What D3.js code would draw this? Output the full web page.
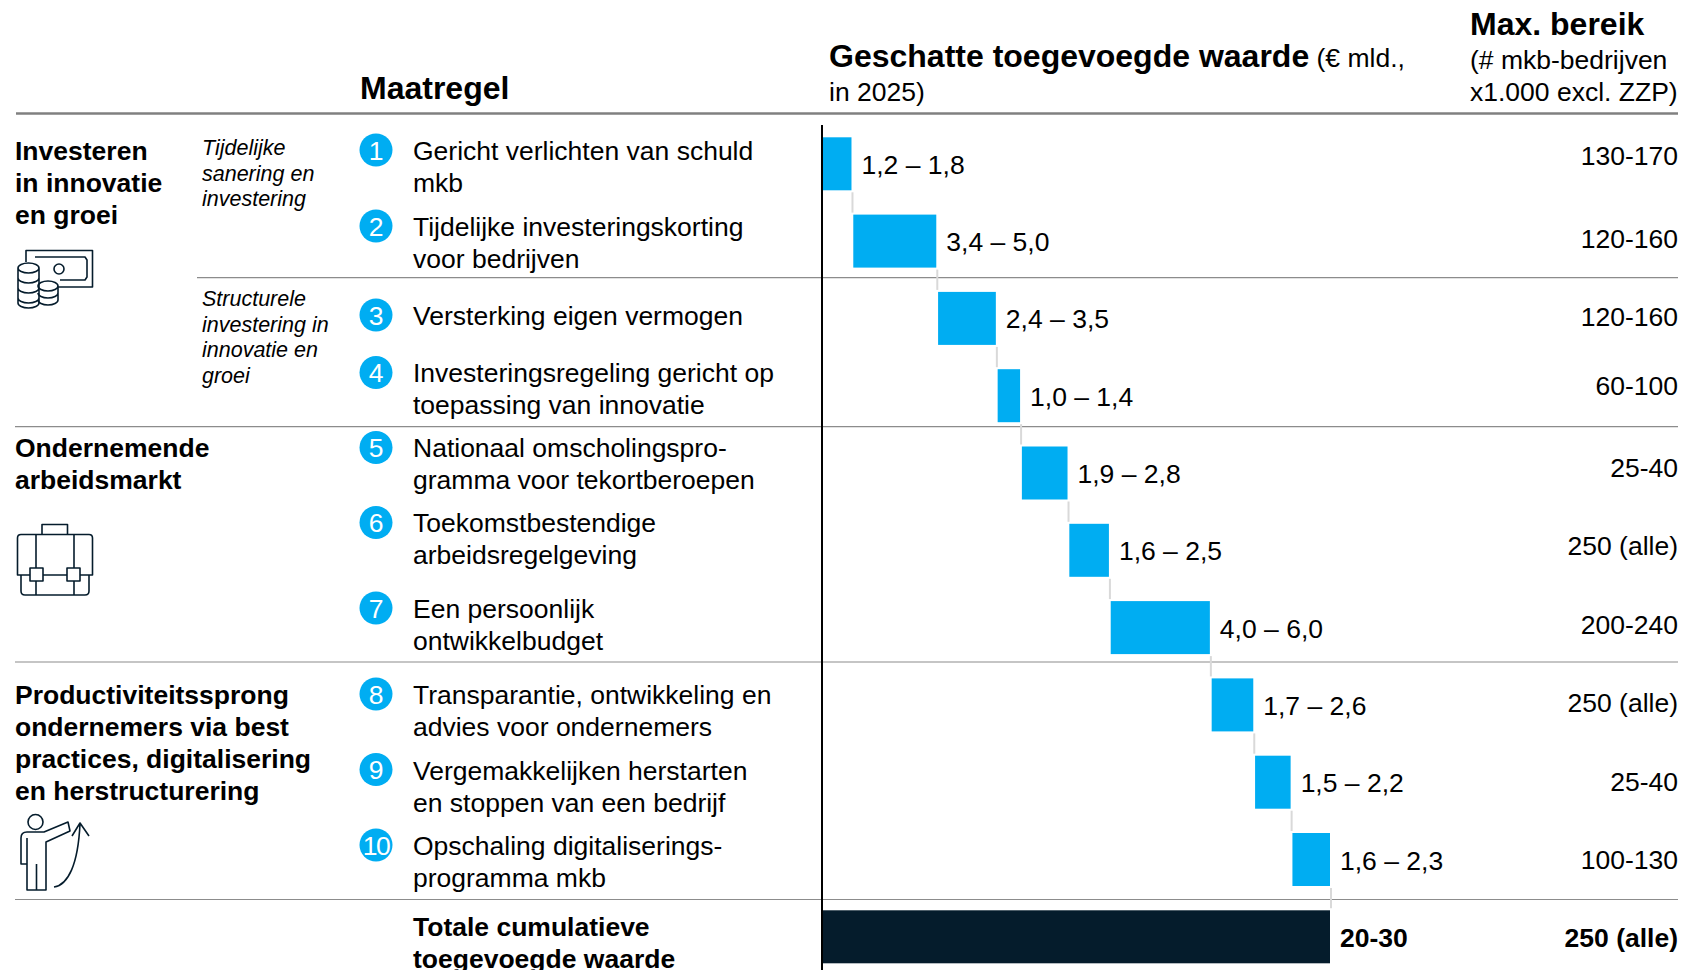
<!DOCTYPE html>
<html>
<head>
<meta charset="utf-8">
<script src="https://cdn.jsdelivr.net/npm/d3@7"></script>
<style>
body { margin: 0; background: #fff; }
text { font-family: "Liberation Sans", Arial, sans-serif; fill: #000; }
</style>
</head>
<body>
<div id="chart"></div>
<script>
// data
var measures = [
    ["Gericht verlichten van schuld", "mkb"],
    ["Tijdelijke investeringskorting", "voor bedrijven"],
    ["Versterking eigen vermogen"],
    ["Investeringsregeling gericht op", "toepassing van innovatie"],
    ["Nationaal omscholingspro-", "gramma voor tekortberoepen"],
    ["Toekomstbestendige", "arbeidsregelgeving"],
    ["Een persoonlijk", "ontwikkelbudget"],
    ["Transparantie, ontwikkeling en", "advies voor ondernemers"],
    ["Vergemakkelijken herstarten", "en stoppen van een bedrijf"],
    ["Opschaling digitaliserings-", "programma mkb"]
];
var valueLabels = ["1,2 – 1,8", "3,4 – 5,0", "2,4 – 3,5", "1,0 – 1,4", "1,9 – 2,8", "1,6 – 2,5", "4,0 – 6,0", "1,7 – 2,6", "1,5 – 2,2", "1,6 – 2,3"];
var midValues = [1.5, 4.2, 2.95, 1.2, 2.35, 2.05, 5.0, 2.15, 1.85, 1.95];
var reach = ["130-170", "120-160", "120-160", "60-100", "25-40", "250 (alle)", "200-240", "250 (alle)", "25-40", "100-130"];
var totalLabel = ["Totale cumulatieve", "toegevoegde waarde"];
var totalValue = "20-30";
var totalReach = "250 (alle)";
var themes = [
    ["Investeren", "in innovatie", "en groei"],
    ["Ondernemende", "arbeidsmarkt"],
    ["Productiviteitssprong", "ondernemers via best", "practices, digitalisering", "en herstructurering"]
];
var subThemes = [
    ["Tijdelijke", "sanering en", "investering"],
    ["Structurele", "investering in", "innovatie en", "groei"]
];

// layout
var axisX = 822, barLeft = 823, barRight = 1331.8, gap = 1.8;
var bodySize = 26.5, headSize = 32;
var circleY = [150, 226, 315, 372.5, 447.5, 522.5, 608, 694, 769.5, 845];
var labelY = [160, 236, 325, 382, 457, 532, 618, 704, 779.5, 855];
var reachY = [165, 248, 326, 395, 477, 555, 634, 712, 790.5, 869];
var themeY = [160, 457, 704];
var subThemeY = [155, 306];
var ruleY = [[16, 113.5, 2.4, "#808080"], [197, 277.7, 1.2, "#8c8c8c"], [15, 426.7, 1.2, "#8c8c8c"], [15, 662, 1.2, "#8c8c8c"], [15, 899.5, 1.2, "#8c8c8c"]];

var svg = d3.select("#chart").append("svg")
    .attr("width", 1683)
    .attr("height", 970);

var cumulative = Array.from(d3.cumsum(midValues));
var total = cumulative[cumulative.length - 1];

var x = d3.scaleLinear().domain([0, total]).range([barLeft, barRight]);
var y = d3.scaleBand()
    .domain(d3.range(11))
    .range([137.3, 137.3 + 11 * 77.3 - 24.3])
    .paddingInner(24.3 / 77.3);

function multiline(g, lines, px, py, size, lh) {
    var t = g.append("text").attr("x", px).attr("y", py).attr("font-size", size);
    lines.forEach(function (l, i) {
        t.append("tspan").attr("x", px).attr("y", py + i * lh).text(l);
    });
    return t;
}

// rules
svg.selectAll(".rule").data(ruleY).enter().append("line")
    .attr("x1", function (d) { return d[0]; })
    .attr("x2", 1678)
    .attr("y1", function (d) { return d[1]; })
    .attr("y2", function (d) { return d[1]; })
    .attr("stroke", function (d) { return d[3]; })
    .attr("stroke-width", function (d) { return d[2]; });

// headers
svg.append("text").attr("x", 360).attr("y", 99).attr("font-size", headSize).attr("font-weight", "bold").text("Maatregel");
var head = svg.append("text").attr("x", 829).attr("y", 67).attr("font-size", bodySize);
head.append("tspan").attr("font-size", headSize).attr("font-weight", "bold").text("Geschatte toegevoegde waarde");
head.append("tspan").text(" (€ mld.,");
svg.append("text").attr("x", 829).attr("y", 101).attr("font-size", bodySize).text("in 2025)");
svg.append("text").attr("x", 1470).attr("y", 35).attr("font-size", headSize).attr("font-weight", "bold").text("Max. bereik");
multiline(svg, ["(# mkb-bedrijven", "x1.000 excl. ZZP)"], 1470, 69, bodySize, 32);

// left columns
themes.forEach(function (t, i) {
    multiline(svg, t, 15, themeY[i], bodySize, 32).attr("font-weight", "bold");
});
subThemes.forEach(function (t, i) {
    multiline(svg, t, 202, subThemeY[i], 21.5, 25.5).attr("font-style", "italic");
});

// numbered circles and measure names
var rows = svg.selectAll(".row").data(measures).enter().append("g").attr("class", "row");
rows.append("circle")
    .attr("cx", 376)
    .attr("cy", function (d, i) { return circleY[i]; })
    .attr("r", 16.5)
    .attr("fill", "#00adf2");
rows.append("text")
    .attr("x", 376)
    .attr("y", function (d, i) { return circleY[i] + 9.5; })
    .attr("text-anchor", "middle")
    .attr("font-size", bodySize)
    .style("fill", "#fff")
    .attr("letter-spacing", function (d, i) { return i == 9 ? -1.5 : 0; })
    .text(function (d, i) { return i + 1; });
rows.each(function (d, i) {
    multiline(d3.select(this), d, 413, labelY[i], bodySize, 32);
});

// connectors between the steps
svg.selectAll(".connector").data(cumulative).enter().append("line")
    .attr("class", "connector")
    .attr("x1", function (d) { return x(d) - gap + 1; })
    .attr("x2", function (d) { return x(d) - gap + 1; })
    .attr("y1", function (d, i) { return y(i) + y.bandwidth() + 2; })
    .attr("y2", function (d, i) { return y(i + 1) - 2; })
    .attr("stroke", "#d9d9d9")
    .attr("stroke-width", 2);

// bars
svg.selectAll(".bar").data(midValues).enter().append("rect")
    .attr("class", "bar")
    .attr("x", function (d, i) { return x(cumulative[i] - d); })
    .attr("y", function (d, i) { return y(i); })
    .attr("width", function (d, i) { return x(cumulative[i]) - x(cumulative[i] - d) - gap; })
    .attr("height", y.bandwidth())
    .attr("fill", "#00adf2");

svg.append("rect")
    .attr("x", x(0))
    .attr("y", y(10))
    .attr("width", x(total) - x(0) - gap)
    .attr("height", y.bandwidth())
    .attr("fill", "#051c2c");

// value labels
svg.selectAll(".vlabel").data(valueLabels).enter().append("text")
    .attr("class", "vlabel")
    .attr("x", function (d, i) { return x(cumulative[i]) - gap + 10; })
    .attr("y", function (d, i) { return y(i) + y.bandwidth() / 2 + 10; })
    .attr("font-size", bodySize)
    .text(function (d) { return d; });

svg.append("text")
    .attr("x", x(total) - gap + 10)
    .attr("y", y(10) + y.bandwidth() / 2 + 10)
    .attr("font-size", bodySize)
    .attr("font-weight", "bold")
    .text(totalValue);

// reach column
svg.selectAll(".reach").data(reach).enter().append("text")
    .attr("class", "reach")
    .attr("x", 1678)
    .attr("y", function (d, i) { return reachY[i]; })
    .attr("text-anchor", "end")
    .attr("font-size", bodySize)
    .text(function (d) { return d; });
svg.append("text")
    .attr("x", 1678)
    .attr("y", 946.5)
    .attr("text-anchor", "end")
    .attr("font-size", bodySize)
    .attr("font-weight", "bold")
    .text(totalReach);

multiline(svg, totalLabel, 413, 936, bodySize, 32).attr("font-weight", "bold");

// axis line
svg.append("line")
    .attr("x1", axisX).attr("x2", axisX)
    .attr("y1", 125).attr("y2", 970)
    .attr("stroke", "#000").attr("stroke-width", 2);

// icons
var icons = svg.append("g")
    .attr("fill", "none")
    .attr("stroke", "#051c2c")
    .attr("stroke-width", 1.6)
    .attr("stroke-linejoin", "round");

// money
icons.append("path").attr("d", "M26,262V250.5H92.5V287H58");
icons.append("path").attr("d", "M35,257H85L87,260V277L85,280H60");
icons.append("circle").attr("cx", 59).attr("cy", 269).attr("r", 5);
icons.append("path").attr("d", "M18,268a10.5,5 0 0 1 21,0a10.5,5 0 0 1 -21,0V303a10.5,5 0 0 0 21,0V268M18,278a10.5,5 0 0 0 21,0M18,288a10.5,5 0 0 0 21,0M18,298a10.5,5 0 0 0 21,0");
icons.append("path").attr("d", "M38,286a10,5 0 0 1 20,0V300a10,5 0 0 1 -20,0M38,286a10,5 0 0 0 20,0M38,293a10,5 0 0 0 20,0");

// briefcase
icons.append("path").attr("d", "M42,534.5V524.5H67.5V534.5");
icons.append("path").attr("d", "M21,534.5H89Q92.5,534.5 92.5,538V575H17.5V538Q17.5,534.5 21,534.5Z");
icons.append("path").attr("d", "M21,575V591Q21,595 25,595H85Q89,595 89,591V575");
icons.append("path").attr("d", "M36,534.5V568M36,580V595M74,534.5V568M74,580V595");
icons.append("rect").attr("x", 30).attr("y", 568).attr("width", 13).attr("height", 13).attr("fill", "#fff");
icons.append("rect").attr("x", 67).attr("y", 568).attr("width", 13).attr("height", 13).attr("fill", "#fff");

// person with arrow
icons.append("circle").attr("cx", 35.5).attr("cy", 822).attr("r", 7.5);
icons.append("path").attr("d", "M27,864H21V838Q21,832 27,832H44L68,822L70,831L46,842V890H27V838M36.5,864V890");
icons.append("path").attr("d", "M54,887C68,885 78,865 80,824M72,836L80,823L89,836");
</script>
</body>
</html>
